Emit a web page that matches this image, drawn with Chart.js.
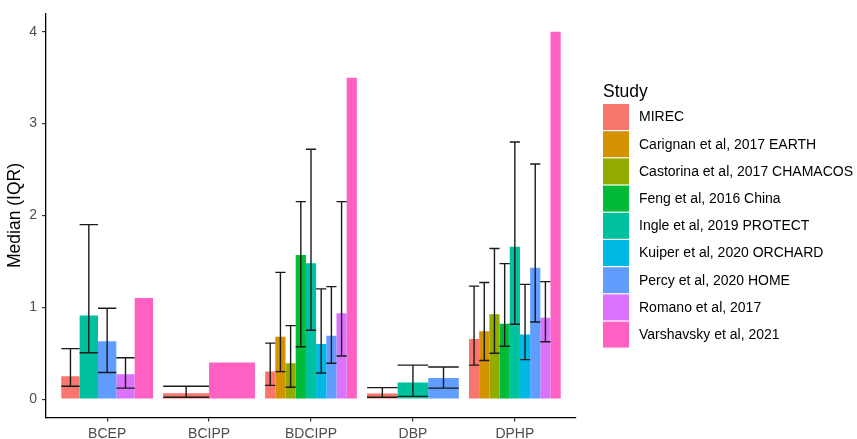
<!DOCTYPE html>
<html>
<head>
<meta charset="utf-8">
<script src="https://cdn.jsdelivr.net/npm/chart.js@4.4.1/dist/chart.umd.min.js"></script>
<style>
  html, body { margin: 0; padding: 0; background: #fff; }
  #chart { display: block; }
</style>
</head>
<body>
<canvas id="chart" width="857" height="439"></canvas>
<script>
const categories = ['BCEP', 'BCIPP', 'BDCIPP', 'DBP', 'DPHP'];
const yTicks = [0, 1, 2, 3, 4];

const studies = [
    'MIREC',
    'Carignan et al, 2017 EARTH',
    'Castorina et al, 2017 CHAMACOS',
    'Feng et al, 2016 China',
    'Ingle et al, 2019 PROTECT',
    'Kuiper et al, 2020 ORCHARD',
    'Percy et al, 2020 HOME',
    'Romano et al, 2017',
    'Varshavsky et al, 2021'
];
const colors = ['#F8766D', '#D39200', '#93AA00', '#00BA38', '#00C19F', '#00B9E3', '#619CFF', '#DB72FB', '#FF61C3'];

// medians and IQR (q1, q3) per study, one value per compound
const mirecMed  = [0.25, 0.065, 0.30, 0.06, 0.655];
const mirecQ1   = [0.14, 0.02, 0.15, 0.02, 0.37];
const mirecQ3   = [0.55, 0.14, 0.61, 0.125, 1.23];

const carignanMed = [null, null, 0.68, null, 0.74];
const carignanQ1  = [null, null, 0.30, null, 0.42];
const carignanQ3  = [null, null, 1.38, null, 1.27];

const castorinaMed = [null, null, 0.39, null, 0.925];
const castorinaQ1  = [null, null, 0.13, null, 0.50];
const castorinaQ3  = [null, null, 0.80, null, 1.64];

const fengMed = [null, null, 1.57, null, 0.82];
const fengQ1  = [null, null, 0.57, null, 0.575];
const fengQ3  = [null, null, 2.15, null, 1.475];

const ingleMed = [0.91, null, 1.48, 0.18, 1.66];
const ingleQ1  = [0.505, null, 0.75, 0.03, 0.815];
const ingleQ3  = [1.90, null, 2.72, 0.37, 2.80];

const kuiperMed = [null, null, 0.60, null, 0.705];
const kuiperQ1  = [null, null, 0.285, null, 0.43];
const kuiperQ3  = [null, null, 1.20, null, 1.25];

const percyMed = [0.63, null, 0.69, 0.23, 1.43];
const percyQ1  = [0.29, null, 0.39, 0.12, 0.84];
const percyQ3  = [0.99, null, 1.225, 0.35, 2.56];

const romanoMed = [0.27, null, 0.935, null, 0.885];
const romanoQ1  = [0.12, null, 0.47, null, 0.625];
const romanoQ3  = [0.45, null, 2.15, null, 1.28];

const varshavskyMed = [1.1, 0.40, 3.50, null, 4.00];
const varshavskyQ1  = [null, null, null, null, null];
const varshavskyQ3  = [null, null, null, null, null];

const meds = [mirecMed, carignanMed, castorinaMed, fengMed, ingleMed, kuiperMed, percyMed, romanoMed, varshavskyMed];
const q1s  = [mirecQ1, carignanQ1, castorinaQ1, fengQ1, ingleQ1, kuiperQ1, percyQ1, romanoQ1, varshavskyQ1];
const q3s  = [mirecQ3, carignanQ3, castorinaQ3, fengQ3, ingleQ3, kuiperQ3, percyQ3, romanoQ3, varshavskyQ3];

const FONT = "'Liberation Sans', Arial, sans-serif";

// error bars (IQR) drawn on top of each bar, whisker as wide as the bar
const errorBars = {
    id: 'errorBars',
    afterDatasetsDraw(chart) {
        const ctx = chart.ctx;
        const y = chart.scales.y;
        ctx.save();
        ctx.strokeStyle = '#1a1a1a';
        ctx.lineWidth = 1.4;
        chart.data.datasets.forEach((ds, di) => {
            const meta = chart.getDatasetMeta(di);
            meta.data.forEach((bar, i) => {
                const lo = ds.q1[i], hi = ds.q3[i];
                if (lo == null || hi == null) return;
                const half = bar.width / 2;
                const yl = y.getPixelForValue(lo), yh = y.getPixelForValue(hi);
                ctx.beginPath();
                ctx.moveTo(bar.x - half, yh); ctx.lineTo(bar.x + half, yh);
                ctx.moveTo(bar.x, yh); ctx.lineTo(bar.x, yl);
                ctx.moveTo(bar.x - half, yl); ctx.lineTo(bar.x + half, yl);
                ctx.stroke();
            });
        });
        ctx.restore();
    }
};

// ggplot-like legend on the right
const sideLegend = {
    id: 'sideLegend',
    afterDraw(chart) {
        const ctx = chart.ctx;
        const x0 = chart.chartArea.right + 27;
        ctx.save();
        ctx.fillStyle = '#000';
        ctx.textAlign = 'left';
        ctx.textBaseline = 'alphabetic';
        ctx.font = '17.5px ' + FONT;
        ctx.fillText('Study', x0, 97);
        ctx.font = '14px ' + FONT;
        ctx.textBaseline = 'middle';
        chart.data.datasets.forEach((ds, i) => {
            const top = 104 + i * 27.2;
            ctx.fillStyle = ds.backgroundColor;
            ctx.fillRect(x0, top, 26, 26);
            ctx.fillStyle = '#000';
            ctx.fillText(ds.label, x0 + 36, top + 13.5);
        });
        ctx.restore();
    }
};

const datasets = studies.map((name, s) => ({
    label: name,
    data: meds[s].map((v, i) => ({ x: i + 1, y: v })),
    q1: q1s[s],
    q3: q3s[s],
    backgroundColor: colors[s],
    borderWidth: 0
}));

new Chart(document.getElementById('chart').getContext('2d'), {
    type: 'bar',
    data: { datasets: datasets },
    options: {
        responsive: false,
        animation: false,
        events: [],
        layout: { padding: { top: 11, right: 281, left: 0, bottom: 0 } },
        datasets: {
            bar: { skipNull: true, categoryPercentage: 0.9, barPercentage: 1.0 }
        },
        plugins: {
            legend: { display: false },
            tooltip: { enabled: false }
        },
        scales: {
            x: {
                type: 'linear',
                min: 0.4,
                max: 5.6,
                offset: false,
                afterBuildTicks: (axis) => { axis.ticks = categories.map((c, i) => ({ value: i + 1 })); },
                afterFit: (axis) => { axis.height = 21.5; },
                grid: { display: true, offset: false, drawOnChartArea: false, drawTicks: true, tickLength: 4, color: '#333', lineWidth: 1.2 },
                border: { display: true, color: '#000', width: 1.3 },
                ticks: {
                    padding: 4,
                    color: '#4D4D4D',
                    font: { family: FONT, size: 14 },
                    maxRotation: 0,
                    autoSkip: false,
                    callback: (v) => categories[Math.round(v) - 1]
                }
            },
            y: {
                type: 'linear',
                min: -0.2,
                max: 4.2,
                afterBuildTicks: (axis) => { axis.ticks = yTicks.map(v => ({ value: v })); },
                afterFit: (axis) => { axis.width = 46; },
                grid: { display: true, drawOnChartArea: false, drawTicks: true, tickLength: 4, color: '#333', lineWidth: 1.2 },
                border: { display: true, color: '#000', width: 1.3 },
                ticks: {
                    padding: 5,
                    color: '#4D4D4D',
                    font: { family: FONT, size: 14 },
                    callback: (v) => String(v)
                },
                title: {
                    display: true,
                    text: 'Median (IQR)',
                    color: '#000',
                    font: { family: FONT, size: 17.5 },
                    padding: { top: 5, bottom: 0 }
                }
            }
        }
    },
    plugins: [errorBars, sideLegend]
});
</script>
</body>
</html>
